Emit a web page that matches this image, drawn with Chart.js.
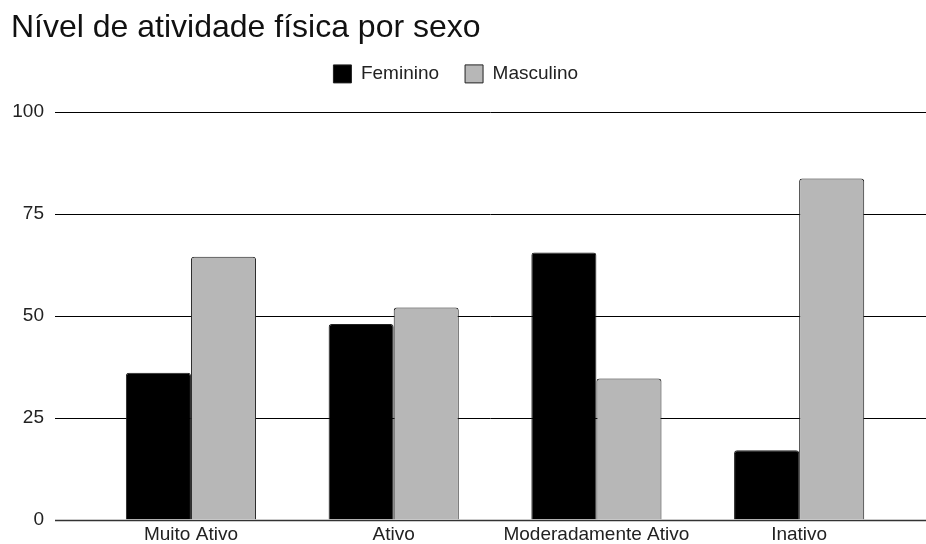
<!DOCTYPE html>
<html>
<head>
<meta charset="utf-8">
<script src="https://cdn.jsdelivr.net/npm/chart.js@4"></script>
<style>
  html, body { margin: 0; padding: 0; background: #fff; overflow: hidden; }
  canvas { display: block; }
</style>
</head>
<body>
<canvas id="chart" width="926" height="544"></canvas>
<script>
// dados
const categorias = ["Muito Ativo", "Ativo", "Moderadamente Ativo", "Inativo"];
const feminino = [36, 48, 65.5, 17];
const masculino = [64.5, 52, 34.6, 83.7];
const yTicks = [0, 25, 50, 75, 100];

const FONT = "'Liberation Sans', Arial, sans-serif";

// linhas de grade atravessando toda a largura + rótulos do eixo Y
const fullGrid = {
  id: "fullGrid",
  beforeDatasetsDraw(chart) {
    const { ctx } = chart;
    const y = chart.scales.y;
    ctx.save();
    yTicks.forEach((v) => {
      const py = Math.round(y.getPixelForValue(v)) + 0.5;
      ctx.beginPath();
      ctx.strokeStyle = v === 0 ? "#333" : "#000";
      ctx.lineWidth = v === 0 ? 1.5 : 1;
      ctx.moveTo(55, py);
      ctx.lineTo(926, py);
      ctx.stroke();

      ctx.fillStyle = "#222";
      ctx.font = `19px ${FONT}`;
      ctx.textAlign = "right";
      ctx.textBaseline = "middle";
      ctx.fillText(String(v), 44, y.getPixelForValue(v));
    });
    ctx.restore();
  },
};

// altura fixa da legenda para posicionar a área do gráfico
const legendGap = {
  id: "legendGap",
  beforeInit(chart) {
    const fit = chart.legend.fit;
    chart.legend.fit = function () {
      fit.bind(chart.legend)();
      this.height = 73.6;
    };
  },
};

new Chart(document.getElementById("chart"), {
  type: "bar",
  data: {
    labels: categorias,
    datasets: [
      {
        label: "Feminino",
        data: feminino,
        backgroundColor: "#000000",
        borderColor: "#222",
        borderWidth: 1,
        borderRadius: { topLeft: 3, topRight: 3 },
        borderSkipped: "start",
      },
      {
        label: "Masculino",
        data: masculino,
        backgroundColor: "#b7b7b7",
        borderColor: "#222",
        borderWidth: 1,
        borderRadius: { topLeft: 3, topRight: 3 },
        borderSkipped: "start",
      },
    ],
  },
  options: {
    responsive: false,
    animation: false,
    devicePixelRatio: 1,
    layout: { padding: { left: 11, right: 25.5, top: 0, bottom: 0 } },
    datasets: { bar: { barPercentage: 1, categoryPercentage: 0.642 } },
    plugins: {
      title: {
        display: true,
        text: "Nível de atividade física por sexo",
        align: "start",
        color: "#111",
        font: { family: FONT, size: 32, weight: "normal" },
        padding: { top: 9, bottom: -9 },
      },
      legend: {
        position: "top",
        labels: {
          color: "#222",
          font: { family: FONT, size: 19 },
          boxWidth: 18,
          boxHeight: 18,
          padding: 26,
        },
      },
      tooltip: { enabled: false },
    },
    scales: {
      x: {
        afterFit(axis) {
          axis.height = 24.5;
        },
        grid: { display: false, drawTicks: false },
        border: { display: false },
        ticks: { color: "#222", font: { family: FONT, size: 19 }, padding: 4, maxRotation: 0 },
      },
      y: {
        min: 0,
        max: 100,
        afterBuildTicks(axis) {
          axis.ticks = yTicks.map((v) => ({ value: v }));
        },
        afterFit(axis) {
          axis.width = 78.6;
        },
        grid: { display: false, drawTicks: false },
        border: { display: false },
        ticks: { display: false },
      },
    },
  },
  plugins: [fullGrid, legendGap],
});
</script>
</body>
</html>
